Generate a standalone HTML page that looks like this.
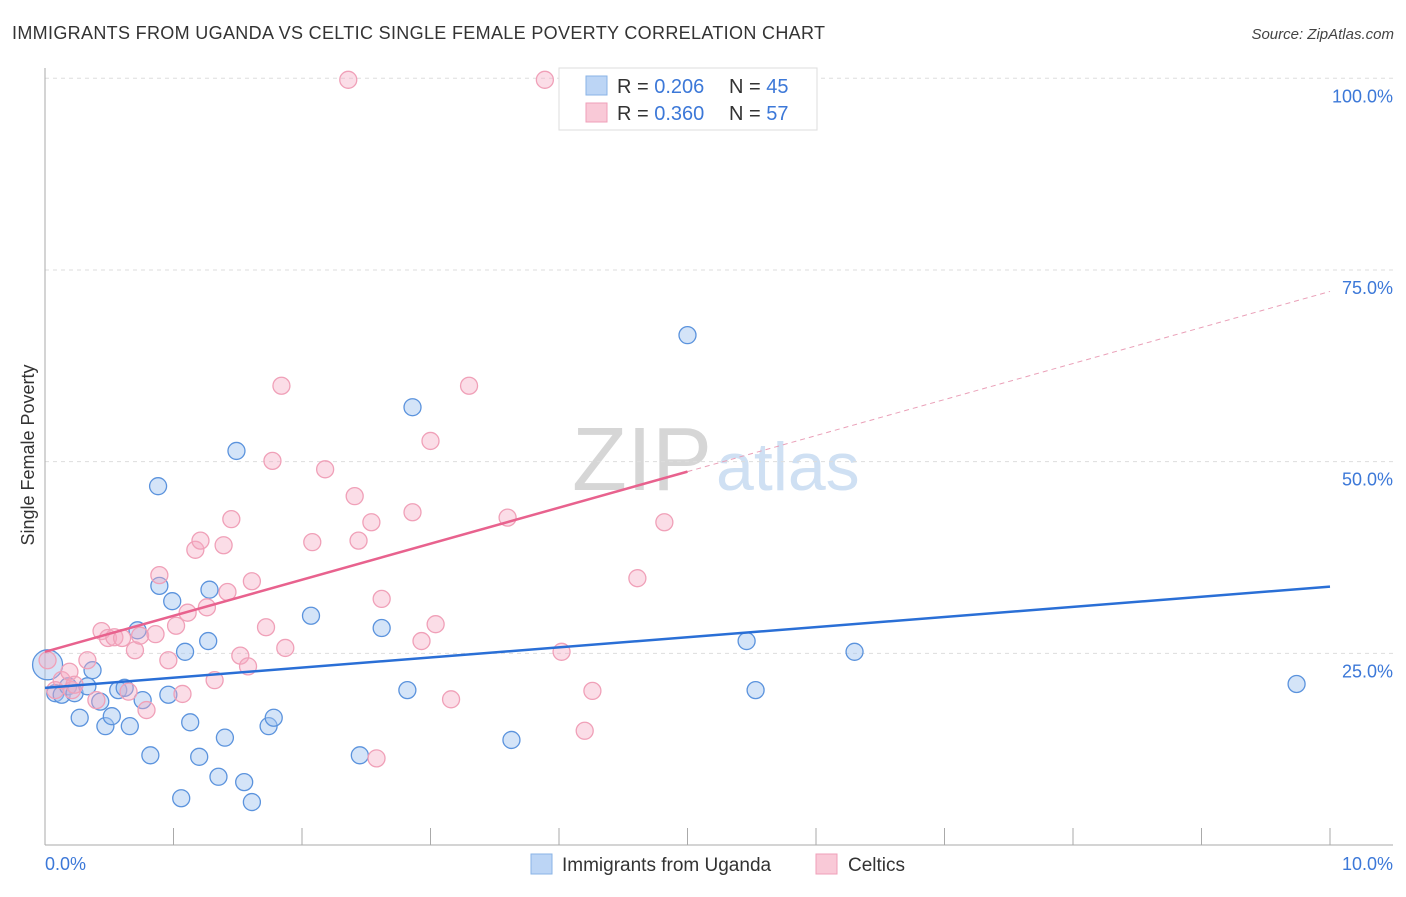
<!DOCTYPE html>
<html><head><meta charset="utf-8"><style>
body{margin:0;background:#fff;font-family:"Liberation Sans",sans-serif;}
svg text{font-family:"Liberation Sans",sans-serif;}
</style></head><body>
<svg id="chart" width="1406" height="892" xmlns="http://www.w3.org/2000/svg">
<text x="12" y="39" font-size="18" fill="#333" textLength="813">IMMIGRANTS FROM UGANDA VS CELTIC SINGLE FEMALE POVERTY CORRELATION CHART</text>
<text x="1394" y="39" font-size="15" fill="#444" text-anchor="end" font-style="italic">Source: ZipAtlas.com</text>
<text x="712" y="490" font-size="90" fill="#d6d6d6" text-anchor="end" font-family="Liberation Serif">ZIP</text>
<text x="716" y="490" font-size="68" fill="#cfe0f3">atlas</text>
<g id="grid"></g><g id="axes"></g><g id="marks"></g>
<text x="34" y="455" font-size="18" fill="#333" text-anchor="middle" transform="rotate(-90 34 455)">Single Female Poverty</text>
<g>
<rect x="559" y="68" width="258" height="62" fill="#fff" stroke="#ddd"/>
<rect x="586" y="76" width="21" height="19" fill="#bcd5f5" stroke="#8ab3e6"/>
<rect x="586" y="103" width="21" height="19" fill="#f9c9d7" stroke="#ef9fb8"/>
<text x="617" y="93" font-size="20" fill="#333">R = <tspan fill="#3c78d8">0.206</tspan></text>
<text x="729" y="93" font-size="20" fill="#333">N = <tspan fill="#3c78d8">45</tspan></text>
<text x="617" y="120" font-size="20" fill="#333">R = <tspan fill="#3c78d8">0.360</tspan></text>
<text x="729" y="120" font-size="20" fill="#333">N = <tspan fill="#3c78d8">57</tspan></text>
</g>
<g>
<rect x="531" y="854" width="21" height="20" fill="#bcd5f5" stroke="#8ab3e6"/>
<text x="562" y="871" font-size="19" fill="#333">Immigrants from Uganda</text>
<rect x="816" y="854" width="21" height="20" fill="#f9c9d7" stroke="#ef9fb8"/>
<text x="848" y="871" font-size="19" fill="#333">Celtics</text>
</g>
</svg>
<script>
const blueX=[0.02,0.08,0.13,0.18,0.23,0.27,0.33,0.37,0.43,0.47,0.52,0.57,0.62,0.66,0.72,0.76,0.82,0.88,0.89,0.96,0.99,1.06,1.09,1.13,1.20,1.27,1.28,1.35,1.40,1.49,1.55,1.61,1.74,1.78,2.07,2.45,2.62,2.82,2.86,3.63,5.00,5.46,5.53,6.30,9.74];
const blueY=[23.5,19.8,19.6,20.7,19.8,16.6,20.7,22.8,18.7,15.5,16.8,20.2,20.5,15.5,28.0,18.9,11.7,46.8,33.8,19.6,31.8,6.1,25.2,16.0,11.5,26.6,33.3,8.9,14.0,51.4,8.2,5.6,15.5,16.6,29.9,11.7,28.3,20.2,57.1,13.7,66.5,26.6,20.2,25.2,21.0];
const pinkX=[0.02,0.08,0.13,0.19,0.21,0.23,0.33,0.40,0.44,0.49,0.54,0.60,0.65,0.70,0.74,0.79,0.86,0.89,0.96,1.02,1.07,1.11,1.17,1.21,1.26,1.32,1.39,1.42,1.45,1.52,1.58,1.61,1.72,1.77,1.84,1.87,2.08,2.18,2.36,2.41,2.44,2.54,2.62,2.58,2.86,2.93,3.00,3.04,3.16,3.30,3.60,3.89,4.02,4.20,4.26,4.61,4.82];
const pinkY=[24.1,20.2,21.5,22.6,20.2,20.9,24.1,18.9,27.9,27.0,27.1,27.0,20.0,25.4,27.3,17.6,27.5,35.2,24.1,28.6,19.7,30.3,38.5,39.7,31.0,21.5,39.1,33.0,42.5,24.7,23.3,34.4,28.4,50.1,59.9,25.7,39.5,49.0,99.8,45.5,39.7,42.1,32.1,11.3,43.4,26.6,52.7,28.8,19.0,59.9,42.7,99.8,25.2,14.9,20.1,34.8,42.1];
const blueTrend=[20.5,33.7];
const pinkTrend=[25.2,48.7];
const yTicks=[25,50,75,100];
const yTickLabels=["25.0%","50.0%","75.0%","100.0%"];
const xTicks=[0,1,2,3,4,5,6,7,8,9,10];
const NS="http://www.w3.org/2000/svg";
const sx=v=>45+v*128.5, sy=v=>845-v*7.667;
function mk(parent,tag,attrs){const e=document.createElementNS(NS,tag);for(const k in attrs)e.setAttribute(k,attrs[k]);document.getElementById(parent).appendChild(e);return e;}
yTicks.forEach((t,i)=>{
 const g=mk('grid','line',{x1:45,x2:1393,y1:sy(t),y2:sy(t),stroke:'#ddd','stroke-dasharray':'4 4'});
 
 
 const l=mk('grid','text',{x:1393,y:sy(t)+24,'font-size':18,fill:'#3c78d8','text-anchor':'end'});
 l.textContent=yTickLabels[i];
 
 
});
const ax=mk('axes','line',{x1:45,x2:45,y1:68,y2:845,stroke:'#aaa'});


const bx=mk('axes','line',{x1:45,x2:1393,y1:845,y2:845,stroke:'#aaa'});


xTicks.forEach(t=>{
 const tk=mk('axes','line',{x1:sx(t),x2:sx(t),y1:828,y2:845,stroke:'#aaa'});
 
 
});
const x0=mk('axes','text',{x:45,y:870,'font-size':18,fill:'#3c78d8'});x0.textContent='0.0%';


const x1=mk('axes','text',{x:1393,y:870,'font-size':18,fill:'#3c78d8','text-anchor':'end'});x1.textContent='10.0%';


function dot(x,y,r,fill,stroke,name){const c=mk('marks','circle',{cx:sx(x),cy:sy(y),r:r,fill:fill,stroke:stroke,'stroke-width':1.3});
 
 }
blueX.forEach((x,i)=>dot(x,blueY[i],i===0?15:8.5,'rgba(160,195,240,0.45)','#5b93dd','uganda-point'));
pinkX.forEach((x,i)=>dot(x,pinkY[i],8.5,'rgba(245,170,195,0.4)','#f0a0b8','celtics-point'));
const bl=mk('marks','line',{x1:sx(0),y1:sy(blueTrend[0]),x2:sx(10),y2:sy(blueTrend[1]),stroke:'#2a6fd6','stroke-width':2.5});


const pl=mk('marks','line',{x1:sx(0),y1:sy(pinkTrend[0]),x2:sx(5),y2:sy(pinkTrend[1]),stroke:'#e8628e','stroke-width':2.5});


const slope=(pinkTrend[1]-pinkTrend[0])/5;
const pd=mk('marks','line',{x1:sx(5),y1:sy(pinkTrend[1]),x2:sx(10),y2:sy(pinkTrend[0]+slope*10),stroke:'#eaa0b8','stroke-width':1,'stroke-dasharray':'5 4'});


</script>
</body></html>
